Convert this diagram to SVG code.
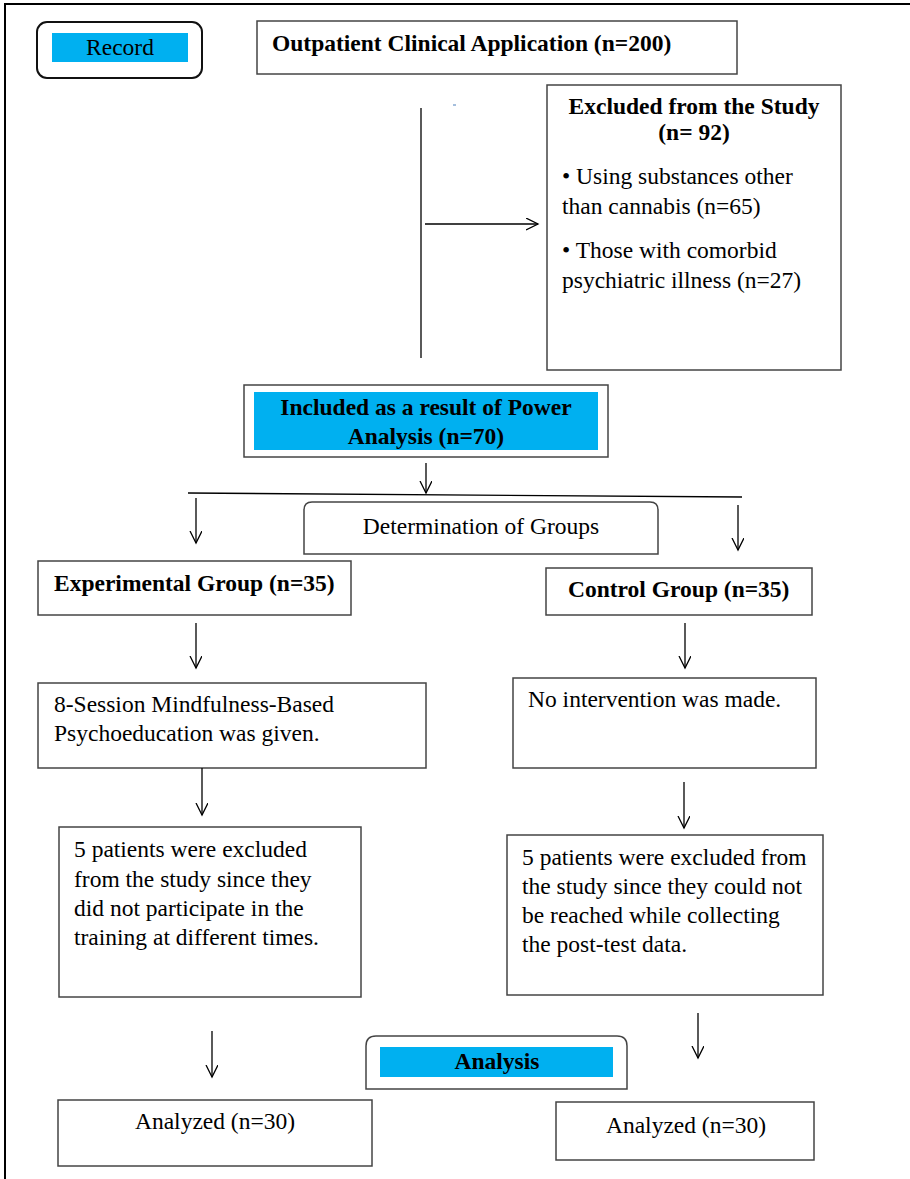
<svg xmlns="http://www.w3.org/2000/svg" width="910" height="1179" viewBox="0 0 910 1179">
<defs>
<marker id="arr" markerWidth="16" markerHeight="16" refX="12" refY="6" orient="auto" markerUnits="userSpaceOnUse">
<polyline points="0,0 12,6 0,12" fill="none" stroke="#000" stroke-width="1.3"/>
</marker>
</defs>
<style>
text{font-family:"Liberation Serif","Times New Roman",serif;font-size:23.5px;fill:#000}
.b{font-weight:bold}
.c{text-anchor:middle}
.box{fill:#fff;stroke:#444;stroke-width:1.5}
.cy{fill:#00b0f0}
.ln{stroke:#000;stroke-width:1.3;fill:none}
</style>
<rect x="5" y="4" width="920" height="1200" fill="#fff" stroke="#000" stroke-width="2"/>
<g id="record">
<rect x="37" y="22" width="165" height="56" rx="10" fill="#fff" stroke="#111" stroke-width="2"/>
<rect class="cy" x="52" y="33" width="136" height="29"/>
<text class="c" x="120" y="55">Record</text>
</g>
<g id="outpatient">
<rect class="box" x="257" y="21" width="480" height="53"/>
<text class="b" x="272" y="51">Outpatient Clinical Application (n=200)</text>
</g>
<g id="excluded">
<rect class="box" x="547" y="85" width="294" height="285"/>
<text class="b c" x="694" y="114">Excluded from the Study</text>
<text class="b c" x="694" y="140">(n= 92)</text>
<text x="562" y="184">• Using substances other</text>
<text x="562" y="214">than cannabis (n=65)</text>
<text x="562" y="258">• Those with comorbid</text>
<text x="562" y="288">psychiatric illness (n=27)</text>
</g>
<g id="included">
<rect class="box" x="244" y="385" width="364" height="72"/>
<rect class="cy" x="254" y="392" width="344" height="58"/>
<text class="b c" x="426" y="415">Included as a result of Power</text>
<text class="b c" x="426" y="444">Analysis (n=70)</text>
</g>
<g id="determination">
<path class="box" d="M304,554 V510 Q304,502 312,502 H650 Q658,502 658,510 V554 Z"/>
<text class="c" x="481" y="534">Determination of Groups</text>
</g>
<g id="experimental">
<rect class="box" x="38" y="561" width="313" height="54"/>
<text class="b" x="54" y="591">Experimental Group (n=35)</text>
</g>
<g id="control">
<rect class="box" x="546" y="568" width="266" height="47"/>
<text class="b" x="568" y="597">Control Group (n=35)</text>
</g>
<g id="session">
<rect class="box" x="38" y="683" width="388" height="85"/>
<text x="54" y="712">8-Session Mindfulness-Based</text>
<text x="54" y="741">Psychoeducation was given.</text>
</g>
<g id="nointervention">
<rect class="box" x="513" y="678" width="303" height="90"/>
<text x="528" y="707">No intervention was made.</text>
</g>
<g id="excl-exp">
<rect class="box" x="59" y="827" width="302" height="170"/>
<text x="74" y="857">5 patients were excluded</text>
<text x="74" y="887">from the study since they</text>
<text x="74" y="916">did not participate in the</text>
<text x="74" y="945">training at different times.</text>
</g>
<g id="excl-ctrl">
<rect class="box" x="507" y="835" width="316" height="160"/>
<text x="522" y="865">5 patients were excluded from</text>
<text x="522" y="894">the study since they could not</text>
<text x="522" y="923">be reached while collecting</text>
<text x="522" y="952">the post-test data.</text>
</g>
<g id="analysis">
<path class="box" d="M366,1089 V1046 Q366,1036 376,1036 H617 Q627,1036 627,1046 V1089 Z"/>
<rect class="cy" x="380" y="1047" width="233" height="30"/>
<text class="b c" x="497" y="1069">Analysis</text>
</g>
<g id="analyzed-exp">
<rect class="box" x="58" y="1100" width="314" height="66"/>
<text class="c" x="215" y="1129">Analyzed (n=30)</text>
</g>
<g id="analyzed-ctrl">
<rect class="box" x="556" y="1102" width="258" height="58"/>
<text class="c" x="686" y="1133">Analyzed (n=30)</text>
</g>
<g id="connectors">
<line class="ln" x1="421" y1="108" x2="421" y2="358"/>
<line x1="453" y1="105" x2="456" y2="105" stroke="#4a7ebb" stroke-width="1"/>
<line class="ln" x1="425" y1="224" x2="538" y2="224" marker-end="url(#arr)"/>
<line class="ln" x1="426" y1="463" x2="426" y2="493" marker-end="url(#arr)"/>
<line class="ln" x1="188" y1="493" x2="742" y2="497"/>
<line class="ln" x1="196" y1="498" x2="196" y2="543" marker-end="url(#arr)"/>
<line class="ln" x1="738" y1="505" x2="738" y2="550" marker-end="url(#arr)"/>
<line class="ln" x1="196" y1="623" x2="196" y2="668" marker-end="url(#arr)"/>
<line class="ln" x1="685" y1="623" x2="685" y2="668" marker-end="url(#arr)"/>
<line class="ln" x1="202" y1="768" x2="202" y2="815" marker-end="url(#arr)"/>
<line class="ln" x1="684" y1="782" x2="684" y2="828" marker-end="url(#arr)"/>
<line class="ln" x1="212" y1="1031" x2="212" y2="1077" marker-end="url(#arr)"/>
<line class="ln" x1="698" y1="1013" x2="698" y2="1058" marker-end="url(#arr)"/>
</g>
</svg>
